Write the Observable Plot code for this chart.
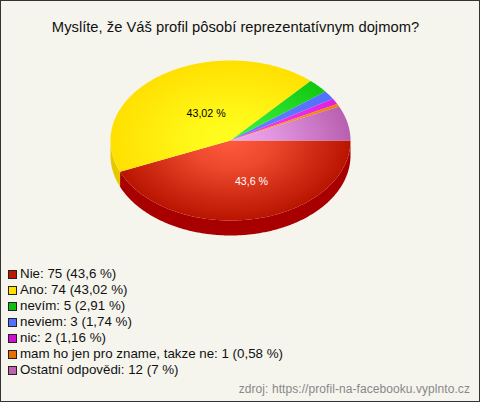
<!DOCTYPE html>
<html><head><meta charset="utf-8">
<script src="https://cdn.jsdelivr.net/npm/d3@7"></script>
<script src="https://cdn.jsdelivr.net/npm/@observablehq/plot@0.6"></script>
<style>
html,body{margin:0;padding:0;background:#f5f5ee;}
#frame{position:relative;width:480px;height:402px;box-sizing:border-box;border:1px solid #333;background:#f5f5ee;overflow:hidden;font-family:"Liberation Sans",Arial,sans-serif;}
#title{height:49px;padding-top:16px;padding-right:9px;box-sizing:border-box;text-align:center;font-size:14.75px;color:#111;line-height:20px;white-space:nowrap;}
#legend{position:absolute;left:7px;top:265px;font-size:13.33px;line-height:16px;color:#111;white-space:nowrap;}
#legend .row{height:16px;display:flex;align-items:center;}
#legend .sw{width:7px;height:7px;border:1px solid #222;margin-right:3px;flex:none;}
#source{position:absolute;right:9px;top:380px;font-size:12px;letter-spacing:.07px;color:#888;line-height:16px;}
svg{display:block;}
</style></head>
<body><div id="frame">
<div id="title"></div><div id="chart"></div><div id="legend"></div><div id="source"></div>
</div>
<script>
const titleText = "Myslíte, že Váš profil pôsobí reprezentatívnym dojmom?";
const sourceText = "zdroj: https://profil-na-facebooku.vyplnto.cz";
const categories = ["Nie","Ano","nevím","neviem","nic","mam ho jen pro zname, takze ne","Ostatní odpovědi"];
const counts = [75,74,5,3,2,1,12];
const percents = ["43,6","43,02","2,91","1,74","1,16","0,58","7"];
const baseColors = ["#c01800","#ffe000","#10c010","#5070ff","#d010d0","#e87000","#c060b0"];
const edgeColors = ["#b81400","#ffe000","#10c810","#5070ff","#e020e0","#f08000","#b860b0"];
const midColors = ["#ff5a3c","#ffff20","#40f040","#6080ff","#f040f0","#ffa020","#f0a8f0"];
const sideColors = ["#a80000","#e6c800","#0a900a","#3050c0","#a000a0","#b05000","#905090"];

const total = d3.sum(counts);
const depth = 15/80;
let acc = 0;
const slices = counts.map((c,i)=>{const a0=acc/total*2*Math.PI; acc+=c; return {i,a0,a1:acc/total*2*Math.PI};});
const arcPts = (a0,a1)=>{const n=Math.max(2,Math.ceil((a1-a0)/0.01));return d3.range(n+1).map(k=>a0+(a1-a0)*k/n);};
const wedge = s=>[{x:0,y:0},...arcPts(s.a0,s.a1).map(a=>({x:Math.cos(a),y:-Math.sin(a)}))];
const side = s=>{const a0=s.a0,a1=Math.min(s.a1,Math.PI); if(a0>=Math.PI) return null;
  const p=arcPts(a0,a1);
  return [...p.map(a=>({x:Math.cos(a),y:-Math.sin(a)})),...p.slice().reverse().map(a=>({x:Math.cos(a),y:-Math.sin(a)-depth}))];};

const defs = ()=>{
  const d=d3.create("svg:defs");
  slices.forEach(s=>{
    const g=d.append("radialGradient").attr("id","g"+s.i).attr("gradientUnits","userSpaceOnUse")
      .attr("cx",0).attr("cy",0).attr("r",120)
      .attr("gradientTransform","translate(229,90) scale(1,0.667)");
    g.append("stop").attr("offset","0").attr("stop-color",midColors[s.i]);
    g.append("stop").attr("offset","0.35").attr("stop-color",d3.interpolateRgb(midColors[s.i],edgeColors[s.i])(0.25));
    g.append("stop").attr("offset","1").attr("stop-color",edgeColors[s.i]);
  });
  return d.node();
};

const marks=[defs];
slices.forEach(s=>{const p=side(s); if(p) marks.push(Plot.line(p,{x:"x",y:"y",z:null,fill:sideColors[s.i],stroke:"none"}));});
slices.forEach(s=>marks.push(Plot.line(wedge(s),{x:"x",y:"y",z:null,fill:`url(#g${s.i})`,stroke:"none"})));
[0,1].forEach(i=>{const s=slices[i],m=(s.a0+s.a1)/2;
  marks.push(Plot.text([percents[i]+" %"],{x:()=>Math.cos(m)*0.5,y:()=>-Math.sin(m)*0.5,text:d=>d,dx:i==0?9:10.5,dy:i==0?2:6,fontSize:10.67,fill:i==0?"#fff":"#000",fontFamily:"Liberation Sans"}));
});

const chart=Plot.plot({width:478,height:190,margin:0,
  x:{domain:[-1,1],range:[109,349],axis:null},
  y:{domain:[-1,1],range:[170,10],axis:null},
  style:{background:"transparent",overflow:"visible"},
  marks});
document.getElementById("chart").append(chart);
document.getElementById("title").textContent=titleText;
document.getElementById("source").textContent=sourceText;
const leg=document.getElementById("legend");
categories.forEach((c,i)=>{
  const r=document.createElement("div");r.className="row";
  const sw=document.createElement("span");sw.className="sw";sw.style.background=baseColors[i];
  const t=document.createElement("span");t.textContent=`${c}: ${counts[i]} (${percents[i]} %)`;
  r.append(sw,t);leg.append(r);
});
</script></body></html>
